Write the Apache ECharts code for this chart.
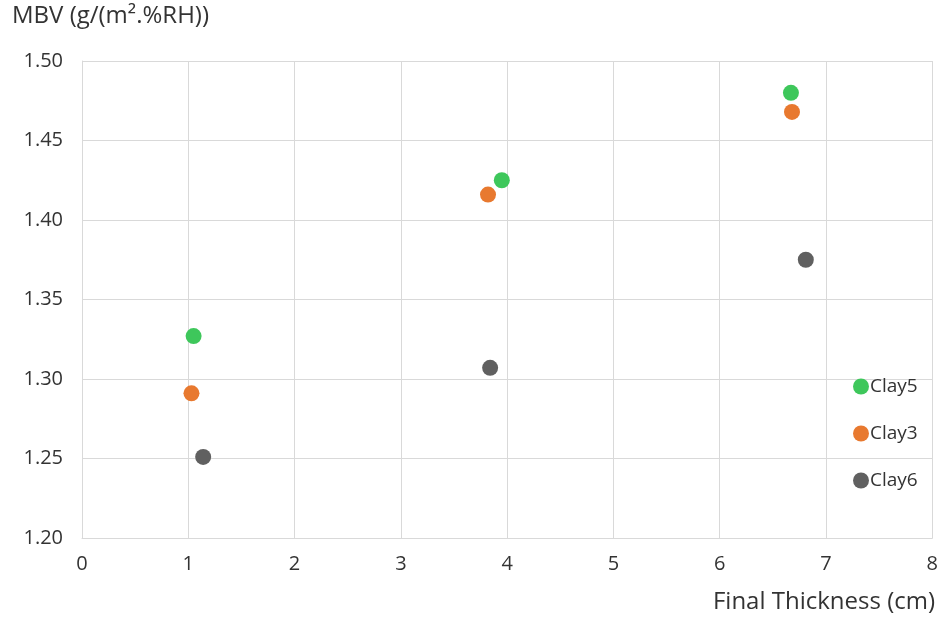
<!DOCTYPE html>
<html><head><meta charset="utf-8">
<script src="https://cdn.jsdelivr.net/npm/echarts@6/dist/echarts.min.js"></script>
<style>html,body{margin:0;padding:0;background:#fff}#c{width:941px;height:623px}</style>
</head><body><div id="c"></div>
<script>
const seriesNames = ["Clay5", "Clay3", "Clay6"];
const clay5X = [1.05, 3.95, 6.67];
const clay5Y = [1.327, 1.425, 1.480];
const clay3X = [1.03, 3.82, 6.68];
const clay3Y = [1.291, 1.416, 1.468];
const clay6X = [1.14, 3.84, 6.81];
const clay6Y = [1.251, 1.307, 1.375];
const colors = ["#3EC75B", "#E8792F", "#606060"];
const xTitle = "Final Thickness (cm)";
const yTitle = "MBV (g/(m².%RH))";

const font = "'Open Sans', 'Noto Sans', sans-serif";
const zip = (xs, ys) => xs.map((x, i) => [x, ys[i]]);
const data = [zip(clay5X, clay5Y), zip(clay3X, clay3Y), zip(clay6X, clay6Y)];

const chart = echarts.init(document.getElementById('c'), null, {renderer: 'canvas'});
chart.setOption({
  animation: false,
  backgroundColor: '#fff',
  grid: {left: 82, right: 4, top: 61, bottom: 85, containLabel: false},
  xAxis: {
    type: 'value', min: 0, max: 8, interval: 1,
    axisLine: {show: true, lineStyle: {color: '#d9d9d9'}},
    axisTick: {show: false},
    splitLine: {show: true, lineStyle: {color: '#d9d9d9', width: 1}},
    axisLabel: {color: '#333', fontSize: 20, fontFamily: font, margin: 16}
  },
  yAxis: {
    type: 'value', min: 1.2, max: 1.5, interval: 0.05,
    axisLine: {show: true, lineStyle: {color: '#d9d9d9'}},
    axisTick: {show: false},
    splitLine: {show: true, lineStyle: {color: '#d9d9d9', width: 1}},
    axisLabel: {color: '#333', fontSize: 20, fontFamily: font, margin: 19,
      formatter: v => v.toFixed(2)}
  },
  legend: {
    orient: 'vertical', left: 848, top: 372,
    itemWidth: 16, itemHeight: 16, itemGap: 28,
    icon: 'circle',
    textStyle: {color: '#333', fontSize: 19, fontFamily: font, padding: [0, 0, 0, -4]},
    data: seriesNames
  },
  graphic: [
    {type: 'text', left: 12, top: 4, style: {text: yTitle, fill: '#333', font: "24px " + font}},
    {type: 'text', right: 6, top: 590, style: {text: xTitle, fill: '#333', font: "24px " + font}}
  ],
  series: seriesNames.map((n, i) => ({
    name: n, type: 'scatter', data: data[i], symbolSize: 16,
    itemStyle: {color: colors[i], opacity: 1}
  }))
});
</script></body></html>
